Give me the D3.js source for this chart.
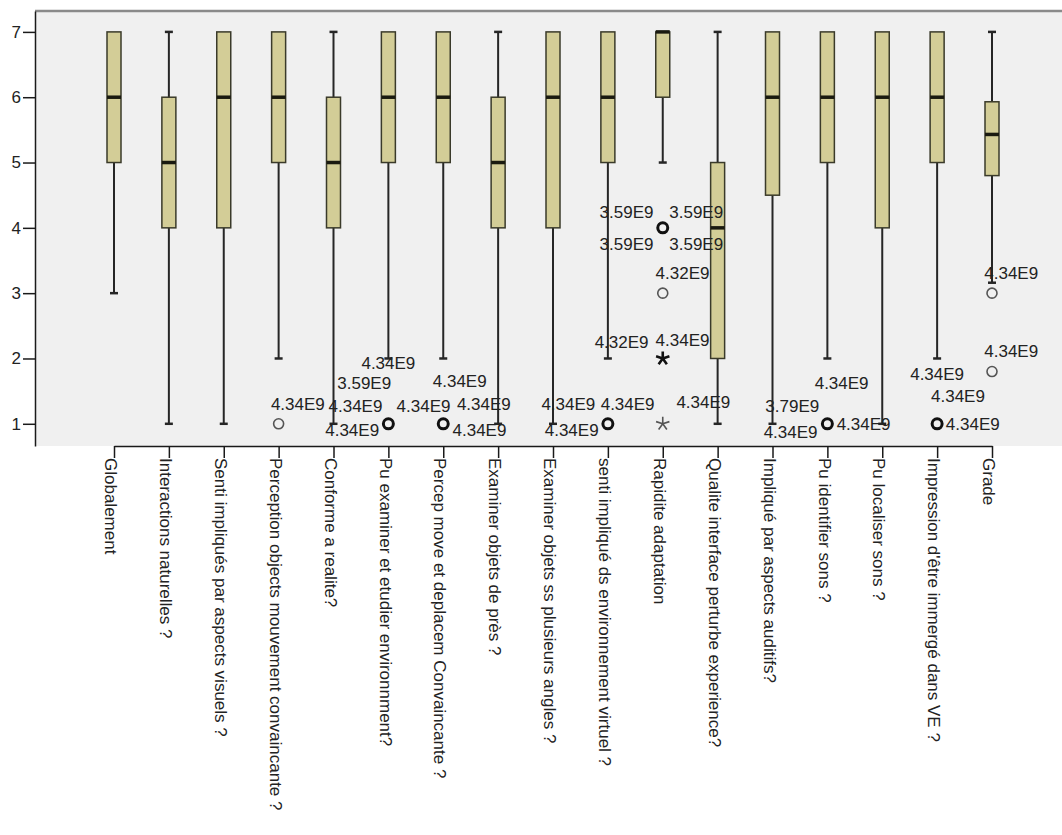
<!DOCTYPE html>
<html>
<head>
<meta charset="utf-8">
<script src="https://cdn.jsdelivr.net/npm/d3@7"></script>
<style>
  body { margin: 0; background: #fff; }
  text { font-family: "Liberation Sans", Arial, sans-serif; fill: #222; }
</style>
</head>
<body>
<div id="chart"></div>
<script>
// Questionnaire items (x axis)
let categories = [
    "Globalement",
    "Interactions naturelles ?",
    "Senti impliqués par aspects visuels ?",
    "Perception objects mouvement convaincante ?",
    "Conforme a realite?",
    "Pu examiner et etudier environnment?",
    "Percep move et deplacem Convaincante ?",
    "Examiner objets de près ?",
    "Examiner objets ss plusieurs angles ?",
    "senti impliqué ds environnement virtuel ?",
    "Rapidite adaptation",
    "Qualite interface perturbe experience?",
    "Impliqué par aspects auditifs?",
    "Pu identifier sons ?",
    "Pu localiser sons ?",
    "Impression d'être immergé dans VE ?",
    "Grade"
];

// Box plot statistics, one value per item
let whiskerLow  = [3, 1, 1, 2, 1, 2, 2, 1, 1, 2, 5, 1, 1,   2, 1, 2, 3.16];
let q1          = [5, 4, 4, 5, 4, 5, 5, 4, 4, 5, 6, 2, 4.5, 5, 4, 5, 4.8];
let medians     = [6, 5, 6, 6, 5, 6, 6, 5, 6, 6, 7, 4, 6,   6, 6, 6, 5.43];
let q3          = [7, 6, 7, 7, 6, 7, 7, 6, 7, 7, 7, 5, 7,   7, 7, 7, 5.93];
let whiskerHigh = [7, 7, 7, 7, 7, 7, 7, 7, 7, 7, 7, 7, 7,   7, 7, 7, 7];

// Outliers: [item index, value, kind, number of overlapping cases]
let outliers = [
    [3, 1, "outlier", 1],
    [5, 1, "outlier", 3],
    [6, 1, "outlier", 3],
    [9, 1, "outlier", 2],
    [10, 4, "outlier", 4],
    [10, 3, "outlier", 1],
    [10, 2, "extreme", 2],
    [10, 1, "extreme", 1],
    [13, 1, "outlier", 2],
    [15, 1, "outlier", 3],
    [16, 3, "outlier", 1],
    [16, 1.8, "outlier", 1]
];

// Case labels: [item index, shift in item steps, value, text]
let caseLabels = [
    [3, 0.35, 1.30, "4.34E9"],
    [5, 0.00, 1.94, "4.34E9"],
    [5, -0.44, 1.62, "3.59E9"],
    [5, -0.60, 1.27, "4.34E9"],
    [5, -0.66, 0.91, "4.34E9"],
    [6, 0.30, 1.66, "4.34E9"],
    [6, -0.36, 1.27, "4.34E9"],
    [6, 0.66, 0.91, "4.34E9"],
    [7, -0.26, 1.31, "4.34E9"],
    [8, 0.28, 1.30, "4.34E9"],
    [8, 0.34, 0.91, "4.34E9"],
    [9, 0.25, 2.26, "4.32E9"],
    [9, 0.36, 1.30, "4.34E9"],
    [10, -0.66, 4.25, "3.59E9"],
    [10, 0.61, 4.25, "3.59E9"],
    [10, -0.66, 3.76, "3.59E9"],
    [10, 0.61, 3.76, "3.59E9"],
    [10, 0.36, 3.31, "4.32E9"],
    [10, 0.36, 2.29, "4.34E9"],
    [10, 0.74, 1.33, "4.34E9"],
    [12, 0.36, 1.27, "3.79E9"],
    [12, 0.33, 0.88, "4.34E9"],
    [13, 0.26, 1.63, "4.34E9"],
    [13, 0.66, 1.00, "4.34E9"],
    [15, 0.00, 1.77, "4.34E9"],
    [15, 0.38, 1.42, "4.34E9"],
    [15, 0.65, 1.00, "4.34E9"],
    [16, 0.35, 3.31, "4.34E9"],
    [16, 0.35, 2.11, "4.34E9"]
];

let yTicks = [1, 2, 3, 4, 5, 6, 7];

var margin = {top: 11, right: 0, bottom: 389, left: 35},
    width = 1062 - margin.left - margin.right,
    height = 835 - margin.top - margin.bottom;

let svg = d3.select("#chart")
            .append("svg")
                .attr("width", width + margin.left + margin.right)
                .attr("height", height + margin.top + margin.bottom)
            .append("g")
                .attr("transform", "translate(" + margin.left + "," + margin.top + ")");

let x = d3.scalePoint()
    .domain(categories)
    .range([79, 957]);

let y = d3.scaleLinear()
    .domain([0.66, 7.32])
    .range([height, 0]);

const boxWidth = 14,
      capWidth = 8,
      fontSize = 17;

// Plot background
svg.append("rect")
    .attr("width", width)
    .attr("height", height)
    .style("fill", "#f0f0f0");

svg.append("line")
    .attr("x1", 0).attr("x2", width)
    .attr("y1", 0).attr("y2", 0)
    .style("stroke", "#8a8a8a")
    .style("stroke-width", 2.5);

// Boxes
let boxes = svg.selectAll("g.box")
    .data(categories)
    .enter()
    .append("g")
        .attr("class", "box")
        .attr("transform", (d) => "translate(" + x(d) + ",0)");

boxes.append("line")
    .attr("y1", (d, i) => y(whiskerLow[i]))
    .attr("y2", (d, i) => y(q1[i]))
    .style("stroke", "#262626")
    .style("stroke-width", 2);

boxes.append("line")
    .attr("y1", (d, i) => y(q3[i]))
    .attr("y2", (d, i) => y(whiskerHigh[i]))
    .style("stroke", "#262626")
    .style("stroke-width", 2);

boxes.filter((d, i) => whiskerLow[i] < q1[i])
    .append("line")
        .attr("x1", -capWidth / 2).attr("x2", capWidth / 2)
        .attr("y1", (d) => y(whiskerLow[categories.indexOf(d)]))
        .attr("y2", (d) => y(whiskerLow[categories.indexOf(d)]))
        .style("stroke", "#262626")
        .style("stroke-width", 2.5);

boxes.filter((d, i) => whiskerHigh[i] > q3[i])
    .append("line")
        .attr("x1", -capWidth / 2).attr("x2", capWidth / 2)
        .attr("y1", (d) => y(whiskerHigh[categories.indexOf(d)]))
        .attr("y2", (d) => y(whiskerHigh[categories.indexOf(d)]))
        .style("stroke", "#262626")
        .style("stroke-width", 2.5);

boxes.append("rect")
    .attr("x", -boxWidth / 2)
    .attr("width", boxWidth)
    .attr("y", (d, i) => y(q3[i]))
    .attr("height", (d, i) => y(q1[i]) - y(q3[i]))
    .style("fill", "#d3cd97")
    .style("stroke", "#3a3a2a")
    .style("stroke-width", 1.5);

boxes.append("line")
    .attr("x1", -boxWidth / 2).attr("x2", boxWidth / 2)
    .attr("y1", (d, i) => y(medians[i]))
    .attr("y2", (d, i) => y(medians[i]))
    .style("stroke", "#1a1a10")
    .style("stroke-width", 3.5);

// Outliers (circles) and extremes (stars)
function asterisk(r) {
    let p = "";
    for (let k = 0; k < 5; k++) {
        let a = -Math.PI / 2 + k * 2 * Math.PI / 5;
        p += "M0,0L" + (r * Math.cos(a)) + "," + (r * Math.sin(a));
    }
    return p;
}

svg.selectAll("circle.outlier")
    .data(outliers.filter((d) => d[2] == "outlier"))
    .enter()
    .append("circle")
        .attr("class", "outlier")
        .attr("cx", (d) => x(categories[d[0]]))
        .attr("cy", (d) => y(d[1]))
        .attr("r", 5)
        .style("fill", "none")
        .style("stroke", (d) => d[3] > 1 ? "#111" : "#555")
        .style("stroke-width", (d) => d[3] > 1 ? 3 : 1.6);

svg.selectAll("path.extreme")
    .data(outliers.filter((d) => d[2] == "extreme"))
    .enter()
    .append("path")
        .attr("class", "extreme")
        .attr("transform", (d) => "translate(" + x(categories[d[0]]) + "," + y(d[1]) + ")")
        .attr("d", asterisk(7))
        .style("fill", "none")
        .style("stroke", (d) => d[3] > 1 ? "#111" : "#555")
        .style("stroke-width", (d) => d[3] > 1 ? 2.6 : 1.6);

// Case labels
svg.selectAll("text.case")
    .data(caseLabels)
    .enter()
    .append("text")
        .attr("class", "case")
        .attr("x", (d) => x(categories[d[0]]) + d[1] * x.step())
        .attr("y", (d) => y(d[2]))
        .attr("dy", "0.36em")
        .attr("text-anchor", "middle")
        .style("font-size", fontSize + "px")
        .text((d) => d[3]);

// Y axis
let yAxis = svg.append("g")
    .attr("class", "yAxis")
    .call(d3.axisLeft(y)
            .tickValues(yTicks)
            .tickFormat(d3.format("d"))
            .tickSize(12)
            .tickSizeOuter(0)
            .tickPadding(2));

yAxis.selectAll("text")
    .style("font-size", fontSize + "px")
    .style("font-family", "Liberation Sans, Arial, sans-serif");

// X axis
let xAxis = svg.append("g")
    .attr("class", "xAxis")
    .attr("transform", "translate(0," + height + ")")
    .call(d3.axisBottom(x)
            .tickSize(12)
            .tickSizeOuter(0));

xAxis.selectAll("text")
    .attr("x", 0)
    .attr("y", 0)
    .attr("dy", "0.55em")
    .attr("transform", "translate(0,12) rotate(90)")
    .style("text-anchor", "start")
    .style("font-size", fontSize + "px")
    .style("font-family", "Liberation Sans, Arial, sans-serif");

svg.selectAll(".domain, .tick line")
    .style("stroke", "#1a1a1a")
    .style("stroke-width", 1.5);
</script>
</body>
</html>
